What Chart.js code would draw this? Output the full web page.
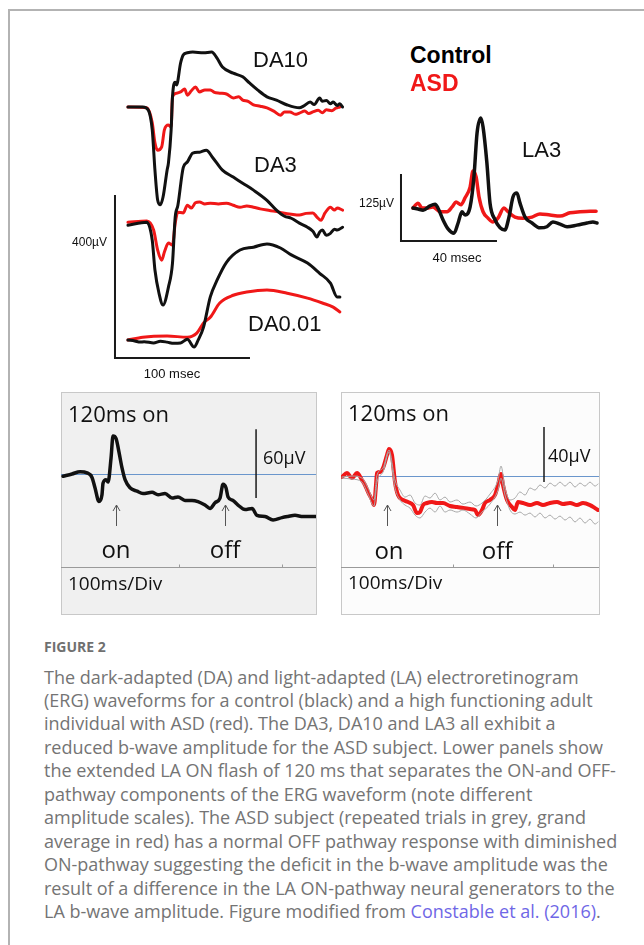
<!DOCTYPE html>
<html>
<head>
<meta charset="utf-8">
<script src="https://cdn.jsdelivr.net/npm/chart.js@4.4.1/dist/chart.umd.min.js"></script>
<style>
  html, body { margin: 0; padding: 0; background: #fff; width: 644px; height: 945px; overflow: hidden; position: relative; }
  canvas { position: absolute; }
  .frame { position: absolute; left: 8px; top: 9px; width: 640px; height: 940px; border-top: 2px solid #b3b3b3; border-left: 2px solid #b3b3b3; }
  .panel { position: absolute; top: 392px; height: 223px; border: 1px solid #c8c8c8; box-sizing: border-box; }
  .txt { position: absolute; white-space: nowrap; }
</style>
</head>
<body>
<div class="frame"></div>
<div class="panel" style="left:61px;width:256px;background:#f0f0f0"></div>
<div class="panel" style="left:341px;width:259px;background:#fcfcfc"></div>
<canvas id="daChart" width="260" height="360" style="left:100px;top:30px"></canvas>
<canvas id="laChart" width="260" height="170" style="left:350px;top:100px"></canvas>
<canvas id="onOffControl" width="255" height="222" style="left:61px;top:392px"></canvas>
<canvas id="onOffAsd" width="258" height="222" style="left:341px;top:392px"></canvas>
<script>
// [time ms, amplitude µV], amplitude relative to each trace's own baseline
const da10Control = [[0,0],[11,0],[15,-7],[18,-56],[20,-155],[22,-228],[24,-240],[26,-221],[29,-155],[30,-137],[32,-56],[33,25],[35,61],[36,54],[39,108],[41,128],[44,133],[48,135],[56,133],[62,135],[66,120],[70,98],[78,83],[85,74],[90,59],[96,42],[103,25],[110,17],[118,5],[127,-2],[130,2],[135,12],[138,6],[142,22],[144,14],[147,16],[150,8],[152,12],[155,4],[157,8],[159,0]];
const da10Asd = [[0,0],[14,-2],[18,-39],[20,-88],[22,-106],[25,-98],[27,-56],[30,-44],[32,-49],[33,25],[36,34],[39,37],[42,44],[44,29],[47,40],[50,49],[53,37],[57,42],[61,42],[64,36],[68,34],[73,32],[78,22],[82,25],[85,17],[89,14],[93,5],[98,2],[103,-2],[108,-10],[113,-20],[116,-12],[120,-12],[124,-18],[127,-15],[131,-10],[134,-16],[137,-12],[141,-8],[144,-14],[147,-7],[151,-9],[154,-3],[157,0]];
const da3Control = [[0,-5],[14,2],[18,-42],[20,-115],[23,-172],[26,-201],[30,-157],[33,-98],[35,15],[37,44],[41,137],[44,150],[48,172],[53,174],[58,179],[63,160],[70,130],[78,113],[85,98],[93,81],[103,56],[110,32],[116,17],[121,12],[127,0],[133,-10],[137,-20],[140,-34],[142,-22],[144,-17],[147,-30],[150,-25],[153,-15],[155,-17],[159,-10]];
const da3Asd = [[0,2],[14,5],[19,-17],[22,-66],[25,-91],[27,-71],[30,-49],[33,-54],[35,0],[37,27],[41,25],[44,44],[47,37],[50,50],[53,52],[57,47],[61,49],[67,47],[73,49],[78,44],[83,39],[88,42],[93,39],[98,35],[103,32],[109,29],[115,25],[121,22],[127,20],[132,24],[137,25],[140,15],[143,7],[146,25],[150,39],[153,32],[155,37],[159,32]];
const da001Control = [[0,0],[5,-2],[9,-5],[12,-4],[19,-7],[24,-3],[29,-5],[34,-8],[39,-7],[44,2],[49,-17],[52,0],[56,32],[61,106],[66,147],[73,191],[83,221],[93,228],[103,236],[113,226],[121,209],[133,189],[142,164],[150,140],[155,106],[157,106]];
const da001Asd = [[0,0],[11,7],[29,10],[44,7],[51,17],[56,42],[61,56],[68,91],[78,110],[88,118],[103,123],[118,115],[133,103],[144,91],[152,81],[157,69]];
const daOffsets = { da10: 616, da3: 331, da001: 44 };

const la3Control = [[0,0],[2.1,-2],[4.2,-4],[7.1,4],[9.2,7],[10.4,0],[12.5,-22],[14.6,-39],[17.1,-47],[18.8,-28],[20.4,-7],[21.7,-13],[23.8,2],[25.4,58],[26.7,140],[28.3,168],[29.2,151],[30.8,84],[32.1,9],[34.2,-22],[36.3,-37],[38.3,-41],[40,-17],[41.7,21],[43.3,28],[44.6,9],[46.7,-17],[49.6,-28],[52.9,-37],[55.8,-35],[58.3,-26],[61.3,-30],[64.2,-35],[68.3,-32],[72.5,-28],[75,-26],[76.7,-28]];
const la3Asd = [[0,0],[2.1,9],[3.8,0],[5.8,0],[8.3,2],[11.3,-7],[14.2,-7],[16.3,2],[17.9,11],[20,6],[21.7,19],[23.8,39],[25,69],[26.3,58],[27.5,21],[29.2,-7],[31.3,-19],[33.3,-26],[35.4,-19],[37.9,0],[39.6,-7],[42.5,-17],[45.8,-19],[49.6,-17],[52.9,-11],[57.1,-13],[61.3,-15],[65.4,-9],[69.6,-7],[73.8,-6],[76.3,-6]];

const onOffControl = [[-12.6,-2],[-3.9,0],[3.9,2],[10.7,1],[15.5,-3],[18.4,-12],[22.3,-24],[25.2,-18],[26.2,-8],[29.1,-5],[31.1,-7],[34,14],[35.9,33],[38.8,31],[41.7,19],[44.7,5],[47.6,-5],[52.4,-12],[59.2,-15],[65,-17],[73.8,-16],[79.6,-18],[86.4,-17],[93.2,-21],[99,-20],[105.8,-23],[112.6,-23],[118.4,-24],[125.2,-27],[130.1,-30],[135,-25],[139.8,-21],[142.7,-9],[145.6,-12],[147.6,-20],[152.4,-23],[157.3,-27],[164.1,-31],[170.9,-30],[175.7,-36],[183.5,-37],[191.3,-40],[200,-38],[205.8,-37],[212.6,-36],[220.4,-37],[227.2,-37],[233,-37]];
const onOffAsdMean = [[-11,-0.7],[-6,2.2],[-1,-1.5],[4,2.2],[9,-2.9],[12,-6.5],[15,-11.6],[19,-17.4],[21,-21.1],[23,-6.5],[24,2.2],[27,2.9],[30,5.8],[34,15.3],[36,19.6],[39,15.3],[42,-4.4],[45,-13.8],[50,-17.4],[55,-18.9],[60,-21.1],[64,-26.9],[67,-26.2],[70,-21.1],[74,-19.6],[79,-18.9],[84,-19.6],[90,-19.6],[97,-21.8],[104,-22.5],[110,-23.3],[117,-24],[122,-24.7],[125,-28.4],[129,-24.7],[132,-19.6],[137,-17.4],[142,-13.8],[145,-6.5],[148,1.5],[150,-6.5],[154,-17.4],[159,-22.5],[162,-24.7],[165,-18.9],[170,-19.6],[177,-21.1],[184,-19.6],[190,-21.1],[197,-19.6],[204,-18.9],[210,-20.4],[217,-19.6],[224,-21.1],[230,-19.6],[237,-21.1],[242,-23.3],[245,-24.7]];
const onOffAsdTrialA = [[-11,-0.7],[-1,0],[9,-1.5],[15,-8.7],[21,-17.4],[24,0.7],[30,5.8],[36,18.9],[42,-2.9],[47,-10.2],[52,-15.3],[57,-13.8],[62,-19.6],[67,-21.1],[72,-14.5],[77,-16],[82,-12.4],[87,-17.4],[92,-15.3],[97,-18.9],[104,-17.4],[110,-20.4],[117,-18.9],[123,-21.8],[129,-19.6],[137,-13.1],[145,-2.9],[148,7.3],[152,-8.7],[157,-17.4],[162,-16],[167,-11.6],[172,-13.8],[177,-8.7],[182,-10.2],[187,-6.5],[192,-8.7],[197,-5.1],[202,-7.3],[207,-4.4],[212,-7.3],[217,-4.4],[222,-8],[227,-5.1],[232,-7.3],[237,-4.4],[242,-7.3],[245,-5.8]];
const onOffAsdTrialB = [[-11,-1.5],[-1,-2.2],[9,-4.4],[15,-13.1],[21,-21.8],[24,-4.4],[30,2.9],[36,17.4],[42,-8.7],[47,-17.4],[52,-21.1],[57,-23.3],[62,-28.4],[67,-30.5],[72,-26.2],[77,-23.3],[82,-26.2],[87,-21.8],[92,-26.2],[97,-24.7],[104,-26.2],[110,-24.7],[117,-27.6],[123,-30.5],[129,-26.2],[137,-20.4],[145,-10.2],[148,-1.5],[152,-13.8],[157,-24.7],[162,-27.6],[167,-26.2],[172,-28.4],[177,-26.9],[182,-29.8],[187,-26.9],[192,-30.5],[197,-28.4],[202,-31.3],[207,-29.1],[212,-32],[217,-29.8],[222,-33.4],[227,-30.5],[232,-34.2],[237,-31.3],[242,-34.9],[245,-33.4]];

const divTicks = [100, 200];
const controlArrows = [38.8, 144.7];
const asdArrows = [34, 144];

const BLACK = '#111111';
const RED = '#f01818';

const pts = (pairs, offset = 0) => pairs.map(([x, y]) => ({ x, y: y + offset }));

const marks = {
  id: 'marks',
  beforeDatasetsDraw(chart, args, opts) {
    const { ctx, chartArea: a, scales: { x, y } } = chart;
    ctx.save();
    ctx.lineCap = 'butt';
    if (opts.zeroLine) {
      ctx.strokeStyle = '#6a96cc';
      ctx.lineWidth = 1;
      const py = Math.round(y.getPixelForValue(0)) + 0.5;
      ctx.beginPath(); ctx.moveTo(a.left, py); ctx.lineTo(a.right, py); ctx.stroke();
    }
    if (opts.divider) {
      const py = a.top + opts.divider + 0.5;
      ctx.strokeStyle = '#9a9a9a';
      ctx.lineWidth = 1;
      ctx.beginPath(); ctx.moveTo(a.left, py); ctx.lineTo(a.right, py);
      (opts.ticks || []).forEach((t) => {
        const px = Math.round(x.getPixelForValue(t)) + 0.5;
        ctx.moveTo(px, py); ctx.lineTo(px, py - 3);
      });
      ctx.stroke();
    }
    (opts.bars || []).forEach((b) => {
      ctx.strokeStyle = '#1a1a1a';
      ctx.lineWidth = b.width || 1.5;
      ctx.beginPath();
      ctx.moveTo(x.getPixelForValue(b.x0), y.getPixelForValue(b.y1));
      ctx.lineTo(x.getPixelForValue(b.x0), y.getPixelForValue(b.y0));
      if (b.x1 !== undefined) ctx.lineTo(x.getPixelForValue(b.x1), y.getPixelForValue(b.y0));
      ctx.stroke();
    });
    (opts.arrows || []).forEach((t) => {
      const px = Math.round(x.getPixelForValue(t)) + 0.5;
      const top = a.top + opts.arrowTop;
      const bottom = a.top + opts.arrowBottom;
      ctx.strokeStyle = '#555';
      ctx.lineWidth = 1;
      ctx.beginPath();
      ctx.moveTo(px, bottom); ctx.lineTo(px, top);
      ctx.moveTo(px - 3.5, top + 6); ctx.lineTo(px, top); ctx.lineTo(px + 3.5, top + 6);
      ctx.stroke();
    });
    ctx.restore();
  }
};

function traceChart(id, datasets, xRange, yRange, markOpts) {
  return new Chart(document.getElementById(id), {
    type: 'line',
    data: { datasets },
    options: {
      responsive: false,
      animation: false,
      events: [],
      layout: { padding: 0 },
      scales: {
        x: { type: 'linear', min: xRange[0], max: xRange[1], display: false },
        y: { min: yRange[0], max: yRange[1], display: false }
      },
      elements: {
        point: { radius: 0 },
        line: { cubicInterpolationMode: 'monotone', borderCapStyle: 'round', borderJoinStyle: 'round' }
      },
      plugins: { legend: { display: false }, tooltip: { enabled: false }, marks: markOpts }
    },
    plugins: [marks]
  });
}

const trace = (label, data, color, width) => ({ label, data, borderColor: color, borderWidth: width, fill: false });

traceChart('daChart', [
  trace('DA10 control', pts(da10Control, daOffsets.da10), BLACK, 3),
  trace('DA3 control', pts(da3Control, daOffsets.da3), BLACK, 3),
  trace('DA0.01 control', pts(da001Control, daOffsets.da001), BLACK, 3),
  trace('DA10 ASD', pts(da10Asd, daOffsets.da10), RED, 3),
  trace('DA3 ASD', pts(da3Asd, daOffsets.da3), RED, 3),
  trace('DA0.01 ASD', pts(da001Asd, daOffsets.da001), RED, 3)
], [-20.7, 171.9], [-78.5, 805], { bars: [{ x0: -9.6, x1: 90.4, y0: 0, y1: 400, width: 2 }] });

traceChart('laChart', [
  trace('LA3 control', pts(la3Control), BLACK, 3.5),
  trace('LA3 ASD', pts(la3Asd), RED, 3.5)
], [-26.25, 82.1], [-115.7, 201.5], { bars: [{ x0: -5, x1: 35, y0: -61.6, y1: 63.4, width: 2 }] });

traceChart('onOffControl', [
  trace('Control', pts(onOffControl), BLACK, 3.5)
], [-14.6, 233], [-121.8, 71.3], {
  zeroLine: true, divider: 175, ticks: divTicks,
  bars: [{ x0: 174.8, y0: -21, y1: 39, width: 1.5 }],
  arrows: controlArrows, arrowTop: 113, arrowBottom: 134
});

traceChart('onOffAsd', [
  trace('Trial A', pts(onOffAsdTrialA), '#a8a8a8', 1),
  trace('Trial B', pts(onOffAsdTrialB), '#a8a8a8', 1),
  trace('Grand average', pts(onOffAsdMean), RED, 4)
], [-12, 246], [-100.3, 61.1], {
  zeroLine: true, divider: 175, ticks: divTicks,
  bars: [{ x0: 191, y0: -4.4, y1: 35.6, width: 1.5 }],
  arrows: asdArrows, arrowTop: 113, arrowBottom: 134
});

// text, placed by baseline
const measureCtx = document.createElement('canvas').getContext('2d');
function placeText(html, x, baseline, font, color, align) {
  measureCtx.font = font;
  const m = measureCtx.measureText('Hg');
  const size = parseFloat(font.match(/([\d.]+)px/)[1]);
  const top = baseline - ((size - (m.fontBoundingBoxAscent + m.fontBoundingBoxDescent)) / 2 + m.fontBoundingBoxAscent);
  const el = document.createElement('div');
  el.className = 'txt';
  el.innerHTML = html;
  el.style.font = font;
  el.style.lineHeight = size + 'px';
  el.style.left = x + 'px';
  el.style.top = top + 'px';
  el.style.color = color;
  if (align === 'center') el.style.transform = 'translateX(-50%)';
  if (align === 'right') el.style.transform = 'translateX(-100%)';
  document.body.appendChild(el);
}

const ARIAL = '"Liberation Sans", Arial, sans-serif';
placeText('DA10', 253, 67, `22px ${ARIAL}`, '#111');
placeText('DA3', 254, 172, `22px ${ARIAL}`, '#111');
placeText('DA0.01', 248, 331, `22px ${ARIAL}`, '#111');
placeText('400µV', 107, 246, `12px ${ARIAL}`, '#111', 'right');
placeText('100 msec', 172, 378, `13px ${ARIAL}`, '#111', 'center');
placeText('Control', 410, 63, `bold 23px ${ARIAL}`, '#000');
placeText('ASD', 410, 91, `bold 23px ${ARIAL}`, RED);
placeText('LA3', 522, 157, `22px ${ARIAL}`, '#111');
placeText('125µV', 394, 207, `12px ${ARIAL}`, '#111', 'right');
placeText('40 msec', 457, 262, `13px ${ARIAL}`, '#111', 'center');

const PANEL = '"Open Sans", sans-serif';
placeText('120ms on', 68, 422, `22px ${PANEL}`, '#111');
placeText('60µV', 263, 464, `18px ${PANEL}`, '#111');
placeText('on', 116, 558, `24px ${PANEL}`, '#111', 'center');
placeText('off', 225, 558, `24px ${PANEL}`, '#111', 'center');
placeText('100ms/Div', 68, 590, `19px ${PANEL}`, '#111');
placeText('120ms on', 348, 421, `22px ${PANEL}`, '#111');
placeText('40µV', 548, 462, `18px ${PANEL}`, '#111');
placeText('on', 389, 559, `24px ${PANEL}`, '#111', 'center');
placeText('off', 497, 559, `24px ${PANEL}`, '#111', 'center');
placeText('100ms/Div', 348, 589, `19px ${PANEL}`, '#111');

const captionLines = [
  'The dark-adapted (DA) and light-adapted (LA) electroretinogram',
  '(ERG) waveforms for a control (black) and a high functioning adult',
  'individual with ASD (red). The DA3, DA10 and LA3 all exhibit a',
  'reduced b-wave amplitude for the ASD subject. Lower panels show',
  'the extended LA ON flash of 120 ms that separates the ON-and OFF-',
  'pathway components of the ERG waveform (note different',
  'amplitude scales). The ASD subject (repeated trials in grey, grand',
  'average in red) has a normal OFF pathway response with diminished',
  'ON-pathway suggesting the deficit in the b-wave amplitude was the',
  'result of a difference in the LA ON-pathway neural generators to the',
  'LA b-wave amplitude. Figure modified from <span style="color:#6f67e6">Constable et al. (2016)</span>.'
];
placeText('FIGURE 2', 44, 652, `bold 14px ${PANEL}`, '#707070');
captionLines.forEach((line, i) => {
  placeText(line, 44, 683.5 + i * 23.45, `18px ${PANEL}`, '#747474');
});
</script>
</body>
</html>
